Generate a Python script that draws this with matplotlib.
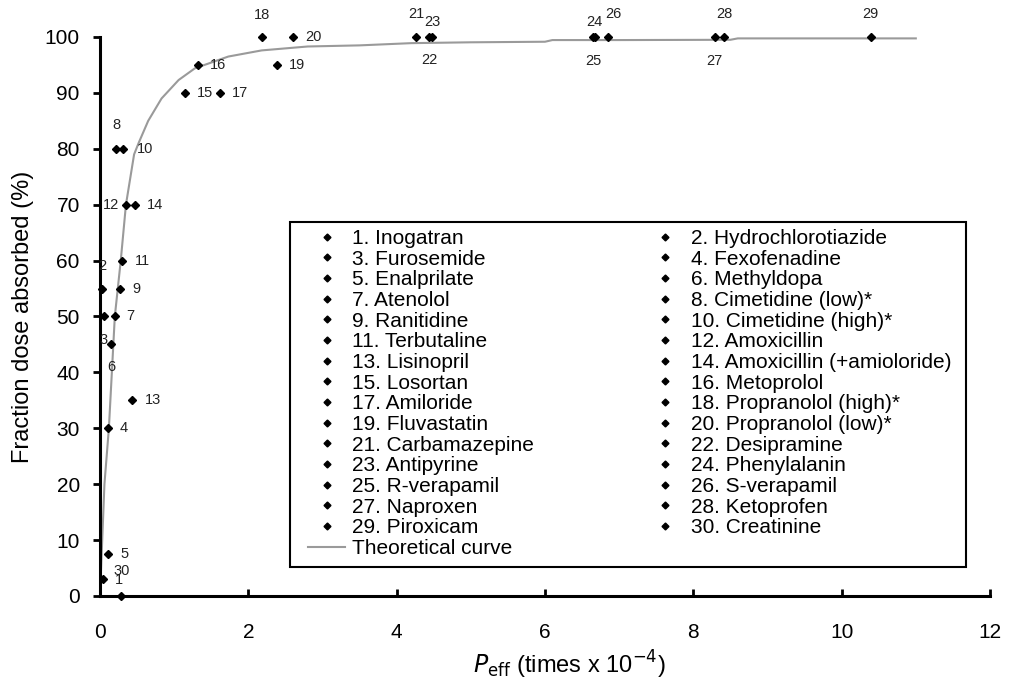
import matplotlib
matplotlib.use('Agg')
import matplotlib.pyplot as plt
from matplotlib.lines import Line2D
from matplotlib.patches import Rectangle

plt.rcParams['font.family'] = ['Liberation Sans', 'DejaVu Sans']

# compound names, numbered 1..30
drugs = ['Inogatran', 'Hydrochlorotiazide', 'Furosemide', 'Fexofenadine', 'Enalprilate',
         'Methyldopa', 'Atenolol', 'Cimetidine (low)*', 'Ranitidine', 'Cimetidine (high)*',
         'Terbutaline', 'Amoxicillin', 'Lisinopril', 'Amoxicillin (+amioloride)', 'Losortan',
         'Metoprolol', 'Amiloride', 'Propranolol (high)*', 'Fluvastatin', 'Propranolol (low)*',
         'Carbamazepine', 'Desipramine', 'Antipyrine', 'Phenylalanin', 'R-verapamil',
         'S-verapamil', 'Naproxen', 'Ketoprofen', 'Piroxicam', 'Creatinine']

# human jejunal Peff (x 10^-4 cm/s) and fraction absorbed (%)
peff = [0.28, 0.03, 0.05, 0.11, 0.11, 0.15, 0.20, 0.22, 0.27, 0.31,
        0.30, 0.35, 0.43, 0.47, 1.15, 1.32, 1.62, 2.18, 2.39, 2.60,
        4.26, 4.44, 4.48, 6.67, 6.65, 6.85, 8.29, 8.42, 10.39, 0.04]
fa = [0, 55, 50, 30, 7.5, 45, 50, 80, 55, 80,
      60, 70, 35, 70, 90, 95, 90, 100, 95, 100,
      100, 100, 100, 100, 100, 100, 100, 100, 100, 3]

# theoretical curve
curve_x = [0, 0.03, 0.06, 0.12, 0.16, 0.20, 0.28, 0.35, 0.46, 0.52, 0.65, 0.83, 1.06, 1.28,
           1.73, 2.18, 2.80, 3.50, 4.20, 5.00, 6.00, 6.10, 7.00, 8.50, 8.60, 9.50, 11.0]
curve_y = [0, 10, 20, 30, 40, 50, 60, 70, 79, 81, 85, 89, 92.3, 94.4,
           96.5, 97.6, 98.3, 98.5, 98.9, 99.05, 99.15, 99.45, 99.45, 99.5, 99.75, 99.75, 99.75]

# where each number sits relative to its point (points)
label_off = [(-1.5, 11.5), (0, 16), (0, -17), (11.5, 0), (11.5, 0), (0, -16), (11, 0), (0, 17),
             (11.5, 0), (16, 0), (14.5, 0), (-11, 0), (15, 0), (14.5, 0), (14.5, 0),
             (14.5, 0), (14.5, 0), (0, 16), (14.5, 0), (14.5, 0), (0, 16.5), (0, -16.5),
             (0, 11), (0, 11), (0, -17), (3.5, 16.5), (0, -17), (0, 16.5), (0, 16.5), (13.5, 6)]

fig = plt.figure(figsize=(10.11, 6.85), dpi=100)
ax = fig.add_axes([0.0989, 0.130, 0.8803, 0.816])

ax.plot(curve_x, curve_y, color='#9a9a9a', lw=1.5, zorder=2)
ax.plot(peff, fa, linestyle='none', marker='D', ms=4.5, color='black', clip_on=False, zorder=3)

for i, (x, y) in enumerate(zip(peff, fa)):
    ax.annotate(str(i + 1), (x, y), xytext=label_off[i], textcoords='offset points',
                ha='center', va='center', fontsize=10.5, color='#222222')

ax.set_xlim(0, 12)
ax.set_ylim(0, 100)
ax.set_xticks(range(0, 13, 2))
ax.set_yticks(range(0, 101, 10))
for s in ['top', 'right']:
    ax.spines[s].set_visible(False)
for s in ['left', 'bottom']:
    ax.spines[s].set_linewidth(2.2)
ax.tick_params(axis='y', direction='out', length=5, width=2, labelsize=15, pad=9.5)
ax.tick_params(axis='x', direction='in', length=5, width=2, labelsize=15, pad=19.5)

ax.set_xlabel(r'$P_{\mathrm{eff}}$ (times x 10$^{-4}$)', fontsize=17, labelpad=4)
ax.xaxis.set_label_coords(0.527, -0.094)
ax.set_ylabel('Fraction dose absorbed (%)', fontsize=17, labelpad=8)

# legend box
ax.add_patch(Rectangle((0.2135, 0.0519), 0.7596, 0.6172, transform=ax.transAxes,
                       facecolor='white', edgecolor='black', lw=1.5, zorder=4))

# legend: odd numbers in the first column, then the curve, even numbers in the second
handles, labels = [], []
for i in list(range(0, 30, 2)) + [None] + list(range(1, 30, 2)):
    if i is None:
        handles.append(Line2D([], [], color='#9a9a9a', lw=1.5))
        labels.append('Theoretical curve')
    else:
        handles.append(Line2D([], [], linestyle='none', marker='D', ms=3.5, color='black'))
        labels.append(f'{i + 1}. {drugs[i]}')
leg = ax.legend(handles, labels, ncol=2, loc='upper left', bbox_to_anchor=(0.2337, 0.6565),
                borderaxespad=0, borderpad=0, fontsize=15, labelspacing=0.08,
                handlelength=1.78, handletextpad=0.34, columnspacing=5.4, frameon=False)
leg.set_zorder(5)

fig.savefig('out.png', dpi=100)
